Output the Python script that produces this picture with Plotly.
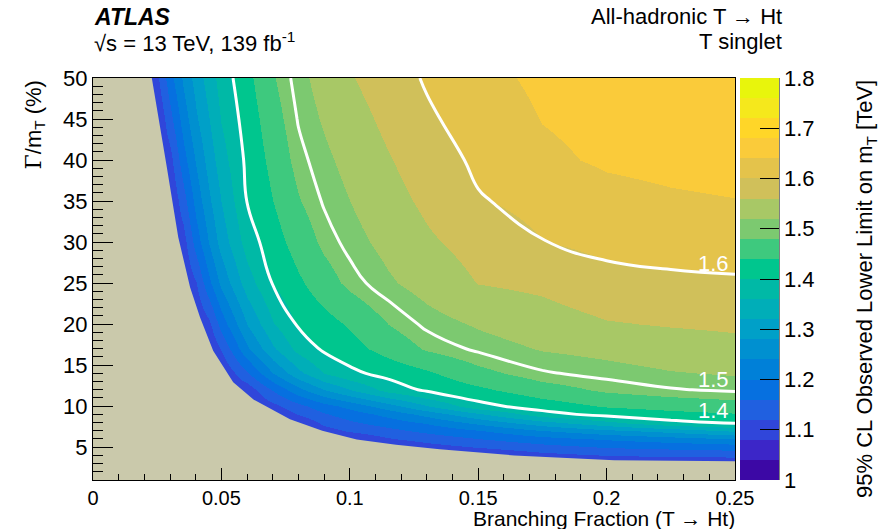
import plotly.graph_objects as go

# ---------------------------------------------------------------------------
# Data: 95% CL observed lower limit on m_T [TeV] vs BR(T->Ht) and Gamma/m_T
# ---------------------------------------------------------------------------
branching_fraction = [0, 0.01, 0.02, 0.025, 0.03, 0.035, 0.04, 0.045, 0.05, 0.06,
                      0.07, 0.08, 0.09, 0.1, 0.115, 0.13, 0.15, 0.175, 0.2, 0.225, 0.25]
width_over_mass = [1, 2, 3, 4, 5, 6, 7, 8, 9, 10, 12, 14, 17, 20, 25, 30, 35, 40, 45, 50]

N = None  # no limit quoted
E = 1.08  # limit value at the boundary of the no-limit region
mass_limit_tev = [
    [N] * 21,
    [N] * 21,
    [N] * 16 + [E, E, E, E, E],
    [N] * 15 + [E, E, 1.107, 1.122, 1.128, 1.132],
    [N] * 14 + [E, 1.102, 1.122, 1.145, 1.163, 1.171, 1.179],
    [N] * 12 + [E, E, 1.115, 1.135, 1.158, 1.184, 1.204, 1.221, 1.238],
    [N] * 11 + [E, 1.101, 1.124, 1.146, 1.169, 1.195, 1.236, 1.267, 1.292, 1.323],
    [N] * 11 + [E, 1.129, 1.152, 1.177, 1.203, 1.248, 1.302, 1.347, 1.389, 1.406],
    [N] * 10 + [E, 1.123, 1.156, 1.180, 1.213, 1.255, 1.314, 1.384, 1.414, 1.428, 1.437],
    [N] * 9 + [E, 1.108, 1.147, 1.184, 1.213, 1.262, 1.318, 1.387, 1.419, 1.444, 1.455, 1.465],
    [N] * 8 + [E, 1.094, 1.163, 1.225, 1.278, 1.318, 1.374, 1.408, 1.431, 1.463, 1.486, 1.498, 1.504],
    [N] * 8 + [E, 1.155, 1.241, 1.308, 1.362, 1.390, 1.414, 1.434, 1.469, 1.497, 1.508, 1.518, 1.523],
    [N] * 7 + [E, 1.122, 1.232, 1.313, 1.373, 1.407, 1.425, 1.455, 1.484, 1.505, 1.522, 1.530, 1.539, 1.547],
    [N] * 6 + [E, 1.111, 1.176, 1.281, 1.357, 1.405, 1.425, 1.445, 1.480, 1.506, 1.524, 1.541, 1.557, 1.563, 1.567],
    [N] * 5 + [E, 1.118, 1.191, 1.249, 1.341, 1.402, 1.433, 1.463, 1.489, 1.515, 1.535, 1.561, 1.569, 1.588, 1.593, 1.595],
    [N] * 4 + [E, 1.102, 1.179, 1.243, 1.296, 1.378, 1.423, 1.457, 1.488, 1.508, 1.531, 1.554, 1.575, 1.599, 1.610, 1.614, 1.618],
    [N] * 4 + [E, 1.142, 1.215, 1.273, 1.320, 1.401, 1.440, 1.477, 1.503, 1.520, 1.546, 1.568, 1.597, 1.612, 1.628, 1.635, 1.639],
    [N] * 3 + [E, 1.106, 1.183, 1.245, 1.298, 1.342, 1.409, 1.453, 1.492, 1.513, 1.531, 1.557, 1.581, 1.607, 1.633, 1.645, 1.650, 1.653],
    [N] * 3 + [E, 1.147, 1.217, 1.274, 1.319, 1.362, 1.418, 1.465, 1.502, 1.524, 1.543, 1.570, 1.594, 1.617, 1.641, 1.650, 1.658, 1.666],
    [N] * 2 + [E, 1.111, 1.185, 1.246, 1.297, 1.340, 1.376, 1.429, 1.477, 1.510, 1.534, 1.557, 1.582, 1.604, 1.628, 1.648, 1.659, 1.669, 1.680],
]

# Boundary of the region where no limit is obtained
no_limit_edge_br = [0.0229, 0.0287, 0.0332, 0.0378, 0.0417, 0.0468, 0.0546, 0.0625,
                    0.0767, 0.0893, 0.1027, 0.118, 0.135, 0.164, 0.203, 0.25]
no_limit_edge_width = [50, 39.2, 30.6, 24.5, 20.8, 16.75, 12.9, 10.8,
                       8.4, 7.0, 5.95, 5.3, 4.75, 4.0, 3.42, 3.3]

limit_contour_levels = [1.4, 1.5, 1.6]

x_ticks = [0, 0.05, 0.1, 0.15, 0.2, 0.25]
x_tick_text = ["0", "0.05", "0.1", "0.15", "0.2", "0.25"]
y_ticks = [5, 10, 15, 20, 25, 30, 35, 40, 45, 50]
z_ticks = [1.0, 1.1, 1.2, 1.3, 1.4, 1.5, 1.6, 1.7, 1.8]
z_tick_text = ["1", "1.1", "1.2", "1.3", "1.4", "1.5", "1.6", "1.7", "1.8"]

# ---------------------------------------------------------------------------
# Styling
# ---------------------------------------------------------------------------
X_RANGE = [0, 0.25]
Y_RANGE = [1, 50]
Z_RANGE = [1.0, 1.8]
FONT = "Liberation Sans, Arial, Helvetica, sans-serif"
BEIGE = "rgb(202,201,171)"
FS = 22

band_colors = [
    "rgb(60,8,165)", "rgb(60,38,200)", "rgb(48,70,218)", "rgb(32,96,224)",
    "rgb(6,112,224)", "rgb(0,128,216)", "rgb(0,144,208)", "rgb(0,160,200)",
    "rgb(0,174,184)", "rgb(0,185,166)", "rgb(0,198,142)", "rgb(62,201,126)",
    "rgb(124,201,112)", "rgb(168,200,102)", "rgb(208,192,90)", "rgb(228,195,75)",
    "rgb(250,203,58)", "rgb(255,214,40)", "rgb(245,232,28)", "rgb(232,245,12)",
]
n_bands = len(band_colors)
colorscale = []
for i, c in enumerate(band_colors):
    colorscale.append([i / n_bands, c])
    colorscale.append([(i + 1) / n_bands, c])

# plot area in pixels
L, R, T, B = 93, 152, 78, 49
W, H = 887, 529
pw, ph = W - L - R, H - T - B


def px_x(p):
    return (p - L) / pw


def px_y(p):
    return (H - B - p) / ph


fig = go.Figure()

fig.add_trace(go.Heatmap(
    x=branching_fraction, y=width_over_mass, z=mass_limit_tev,
    zsmooth="best", connectgaps=True,
    colorscale=colorscale, zmin=Z_RANGE[0], zmax=Z_RANGE[1],
    hoverinfo="skip",
    colorbar=dict(
        x=px_x(740), xanchor="left", xpad=0, ypad=0,
        y=0.5, yanchor="middle", len=1, lenmode="fraction",
        thickness=39, thicknessmode="pixels",
        outlinewidth=0,
        tickmode="array", tickvals=z_ticks, ticktext=z_tick_text,
        ticks="inside", ticklen=19, tickwidth=1, tickcolor="black",
        tickfont=dict(family=FONT, size=FS, color="black"),
    ),
))

fig.add_trace(go.Contour(
    x=branching_fraction, y=width_over_mass, z=mass_limit_tev,
    contours=dict(coloring="none", start=min(limit_contour_levels),
                  end=max(limit_contour_levels),
                  size=limit_contour_levels[1] - limit_contour_levels[0]),
    line=dict(color="white", width=3, smoothing=1.3),
    showscale=False, hoverinfo="skip",
))

# region without a limit
poly_x = [X_RANGE[0]] + no_limit_edge_br + [X_RANGE[1], X_RANGE[0]]
poly_y = [Y_RANGE[1]] + no_limit_edge_width + [Y_RANGE[0], Y_RANGE[0]]
fig.add_trace(go.Scatter(
    x=poly_x, y=poly_y, mode="lines", fill="toself",
    fillcolor=BEIGE, line=dict(width=0, color=BEIGE),
    hoverinfo="skip", showlegend=False,
))

# contour labels
label_y = {1.4: 9.5, 1.5: 13.2, 1.6: 27.4}
annotations = []
for lev in limit_contour_levels:
    annotations.append(dict(
        x=0.2485, y=label_y[lev], xref="x", yref="y", xanchor="right", yanchor="middle",
        text=f"{lev:.1f}", showarrow=False,
        font=dict(family=FONT, size=FS, color="white"),
    ))

annotations += [
    dict(x=px_x(92), y=px_y(17), xref="paper", yref="paper", xanchor="left", yanchor="middle",
         text="<b><i>ATLAS</i></b>", showarrow=False,
         font=dict(family=FONT, size=23, color="black")),
    dict(x=px_x(92), y=px_y(42), xref="paper", yref="paper", xanchor="left", yanchor="middle",
         text="√s = 13 TeV, 139 fb<sup>-1</sup>", showarrow=False,
         font=dict(family=FONT, size=FS, color="black")),
    dict(x=px_x(784), y=px_y(17), xref="paper", yref="paper", xanchor="right", yanchor="middle",
         text="All-hadronic T → Ht", showarrow=False,
         font=dict(family=FONT, size=FS, color="black")),
    dict(x=px_x(784), y=px_y(42), xref="paper", yref="paper", xanchor="right", yanchor="middle",
         text="T singlet", showarrow=False,
         font=dict(family=FONT, size=FS, color="black")),
    dict(x=px_x(737), y=px_y(518), xref="paper", yref="paper", xanchor="right", yanchor="middle",
         text="Branching Fraction (T → Ht)", showarrow=False,
         font=dict(family=FONT, size=21, color="black")),
    dict(x=px_x(34), y=px_y(79), xref="paper", yref="paper", xanchor="center", yanchor="top",
         text="<span style='font-family:DejaVu Serif'>Γ</span>/m<sub>T</sub> (%)",
         textangle=-90, showarrow=False,
         font=dict(family=FONT, size=FS, color="black")),
    dict(x=px_x(866), y=px_y(78), xref="paper", yref="paper", xanchor="center", yanchor="top",
         text="95% CL Observed Lower Limit on m<sub>T</sub> [TeV]",
         textangle=-90, showarrow=False,
         font=dict(family=FONT, size=FS, color="black")),
]

fig.update_layout(
    width=W, height=H,
    margin=dict(l=L, r=R, t=T, b=B, pad=0),
    paper_bgcolor="white", plot_bgcolor=BEIGE,
    showlegend=False,
    annotations=annotations,
    shapes=[dict(type="line", xref="paper", yref="paper",
                 x0=px_x(779), x1=px_x(779), y0=0, y1=1,
                 line=dict(color="black", width=1))],
    font=dict(family=FONT, size=FS, color="black"),
)

fig.update_xaxes(
    range=X_RANGE, showgrid=False, zeroline=False,
    showline=True, linecolor="black", linewidth=1, mirror=True,
    tickmode="array", tickvals=x_ticks, ticktext=x_tick_text,
    ticks="inside", ticklen=12, tickcolor="black", tickwidth=1,
    minor=dict(dtick=0.01, ticks="inside", ticklen=6, tickcolor="black", showgrid=False),
    tickfont=dict(family=FONT, size=20, color="black"),
)
fig.update_yaxes(
    range=Y_RANGE, showgrid=False, zeroline=False,
    showline=True, linecolor="black", linewidth=1, mirror=True,
    tickmode="array", tickvals=y_ticks,
    ticks="inside", ticklen=20, tickcolor="black", tickwidth=1,
    minor=dict(tick0=0, dtick=1, ticks="inside", ticklen=10, tickcolor="black", showgrid=False),
    tickfont=dict(family=FONT, size=FS, color="black"),
)

fig.write_html("out.html")
